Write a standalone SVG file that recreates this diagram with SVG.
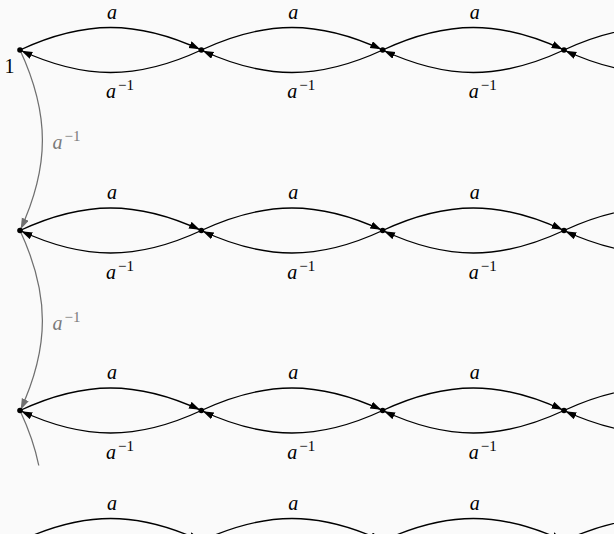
<svg xmlns="http://www.w3.org/2000/svg" width="614" height="534" viewBox="0 0 614 534">
<style>
.e{fill:none;stroke:#000;stroke-width:1.35;marker-end:url(#ah)}
.g{fill:none;stroke:#6f6f6f;stroke-width:1.25}
.ga{marker-end:url(#gh)}
.n{fill:#000}
text{font-family:"Liberation Serif","DejaVu Serif",serif;font-size:20px;fill:#000}
.l{font-style:italic}
.s{font-style:normal;font-size:15px}
.gl{fill:#7a7a7a}
</style>
<defs>
<marker id="ah" markerUnits="userSpaceOnUse" markerWidth="14" markerHeight="10" refX="12.5" refY="3.75" orient="auto"><path d="M0,0 L11,3.75 L0,7.5 Z" fill="#000"/></marker>
<marker id="gh" markerUnits="userSpaceOnUse" markerWidth="14" markerHeight="10" refX="12.5" refY="3.75" orient="auto"><path d="M0,0 L11,3.75 L0,7.5 Z" fill="#6f6f6f"/></marker>
</defs>
<rect width="614" height="534" fill="#fafafa"/>
<g id="connectors">
<path class="g ga" d="M20,50 c29.86,64.04 29.86,116.46 0,180.5"/>
<path class="g ga" d="M20,230.5 c29.86,64.04 29.86,116.46 0,180.5"/>
<path class="g" d="M20,410.5 C28.94,429.67 35.2,447.79 38.78,465.5"/>
<path class="e" d="M20,50 c64.34,-30 117,-30 181.33,0"/>
<path class="e" d="M201.33,50 c-64.34,30 -117,30 -181.33,0"/>
<path class="e" d="M201.33,50 c64.34,-30 117,-30 181.33,0"/>
<path class="e" d="M382.67,50 c-64.34,30 -117,30 -181.33,0"/>
<path class="e" d="M382.67,50 c64.34,-30 117,-30 181.33,0"/>
<path class="e" d="M564,50 c-64.34,30 -117,30 -181.33,0"/>
<path class="e" d="M564,50 c64.34,-30 117,-30 181.33,0"/>
<path class="e" d="M745.33,50 c-64.34,30 -117,30 -181.33,0"/>
<path class="e" d="M20,230.5 c64.34,-30 117,-30 181.33,0"/>
<path class="e" d="M201.33,230.5 c-64.34,30 -117,30 -181.33,0"/>
<path class="e" d="M201.33,230.5 c64.34,-30 117,-30 181.33,0"/>
<path class="e" d="M382.67,230.5 c-64.34,30 -117,30 -181.33,0"/>
<path class="e" d="M382.67,230.5 c64.34,-30 117,-30 181.33,0"/>
<path class="e" d="M564,230.5 c-64.34,30 -117,30 -181.33,0"/>
<path class="e" d="M564,230.5 c64.34,-30 117,-30 181.33,0"/>
<path class="e" d="M745.33,230.5 c-64.34,30 -117,30 -181.33,0"/>
<path class="e" d="M20,410.5 c64.34,-30 117,-30 181.33,0"/>
<path class="e" d="M201.33,410.5 c-64.34,30 -117,30 -181.33,0"/>
<path class="e" d="M201.33,410.5 c64.34,-30 117,-30 181.33,0"/>
<path class="e" d="M382.67,410.5 c-64.34,30 -117,30 -181.33,0"/>
<path class="e" d="M382.67,410.5 c64.34,-30 117,-30 181.33,0"/>
<path class="e" d="M564,410.5 c-64.34,30 -117,30 -181.33,0"/>
<path class="e" d="M564,410.5 c64.34,-30 117,-30 181.33,0"/>
<path class="e" d="M745.33,410.5 c-64.34,30 -117,30 -181.33,0"/>
<path class="e" d="M20,541 c64.34,-30 117,-30 181.33,0"/>
<path class="e" d="M201.33,541 c64.34,-30 117,-30 181.33,0"/>
<path class="e" d="M382.67,541 c64.34,-30 117,-30 181.33,0"/>
<path class="e" d="M564,541 c64.34,-30 117,-30 181.33,0"/>
</g>
<g id="labels">
<text class="gl" x="52.5" y="149"><tspan class="l">a</tspan><tspan class="s" dx="2" dy="-8">−1</tspan></text>
<text class="gl" x="52.5" y="329.5"><tspan class="l">a</tspan><tspan class="s" dx="2" dy="-8">−1</tspan></text>
<text class="l" x="112" y="18.5" text-anchor="middle">a</text>
<text class="l" x="293.3" y="18.5" text-anchor="middle">a</text>
<text class="l" x="474.7" y="18.5" text-anchor="middle">a</text>
<text x="106" y="98"><tspan class="l">a</tspan><tspan class="s" dx="2" dy="-8">−1</tspan></text>
<text x="287.3" y="98"><tspan class="l">a</tspan><tspan class="s" dx="2" dy="-8">−1</tspan></text>
<text x="468.7" y="98"><tspan class="l">a</tspan><tspan class="s" dx="2" dy="-8">−1</tspan></text>
<text class="l" x="112" y="199" text-anchor="middle">a</text>
<text class="l" x="293.3" y="199" text-anchor="middle">a</text>
<text class="l" x="474.7" y="199" text-anchor="middle">a</text>
<text x="106" y="278.5"><tspan class="l">a</tspan><tspan class="s" dx="2" dy="-8">−1</tspan></text>
<text x="287.3" y="278.5"><tspan class="l">a</tspan><tspan class="s" dx="2" dy="-8">−1</tspan></text>
<text x="468.7" y="278.5"><tspan class="l">a</tspan><tspan class="s" dx="2" dy="-8">−1</tspan></text>
<text class="l" x="112" y="379" text-anchor="middle">a</text>
<text class="l" x="293.3" y="379" text-anchor="middle">a</text>
<text class="l" x="474.7" y="379" text-anchor="middle">a</text>
<text x="106" y="458.5"><tspan class="l">a</tspan><tspan class="s" dx="2" dy="-8">−1</tspan></text>
<text x="287.3" y="458.5"><tspan class="l">a</tspan><tspan class="s" dx="2" dy="-8">−1</tspan></text>
<text x="468.7" y="458.5"><tspan class="l">a</tspan><tspan class="s" dx="2" dy="-8">−1</tspan></text>
<text class="l" x="112" y="509.5" text-anchor="middle">a</text>
<text class="l" x="293.3" y="509.5" text-anchor="middle">a</text>
<text class="l" x="474.7" y="509.5" text-anchor="middle">a</text>
</g>
<g id="node-1"><circle class="n" cx="20" cy="50" r="2.8"/><text x="4.5" y="73">1</text></g>
<g id="node-a"><circle class="n" cx="201.33" cy="50" r="2.8"/></g>
<g id="node-a2"><circle class="n" cx="382.67" cy="50" r="2.8"/></g>
<g id="node-a3"><circle class="n" cx="564" cy="50" r="2.8"/></g>
<g id="node-r2-0"><circle class="n" cx="20" cy="230.5" r="2.8"/></g>
<g id="node-r2-1"><circle class="n" cx="201.33" cy="230.5" r="2.8"/></g>
<g id="node-r2-2"><circle class="n" cx="382.67" cy="230.5" r="2.8"/></g>
<g id="node-r2-3"><circle class="n" cx="564" cy="230.5" r="2.8"/></g>
<g id="node-r3-0"><circle class="n" cx="20" cy="410.5" r="2.8"/></g>
<g id="node-r3-1"><circle class="n" cx="201.33" cy="410.5" r="2.8"/></g>
<g id="node-r3-2"><circle class="n" cx="382.67" cy="410.5" r="2.8"/></g>
<g id="node-r3-3"><circle class="n" cx="564" cy="410.5" r="2.8"/></g>
</svg>
